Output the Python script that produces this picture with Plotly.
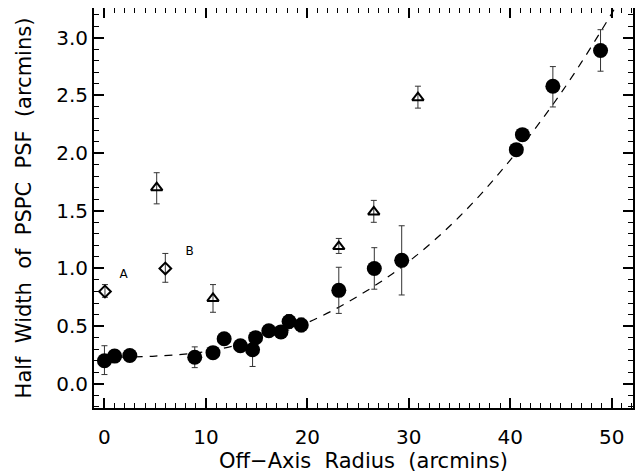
import plotly.graph_objects as go

# Filled circles (main PSF measurements)
circ_x = [0.0, 1.0, 2.5, 8.9, 10.7, 11.8, 13.4, 14.6, 14.9, 16.2, 17.4, 18.2, 19.4, 23.1, 26.6, 29.3, 40.6, 41.2, 44.2, 48.9]
circ_y = [0.20, 0.24, 0.245, 0.23, 0.27, 0.39, 0.33, 0.295, 0.40, 0.46, 0.45, 0.54, 0.51, 0.81, 1.00, 1.07, 2.03, 2.16, 2.58, 2.89]
circ_err_up = [0.13, 0.0, 0.05, 0.09, 0.0, 0.0, 0.0, 0.145, 0.0, 0.0, 0.0, 0.06, 0.06, 0.20, 0.18, 0.30, 0.0, 0.04, 0.17, 0.18]
circ_err_dn = [0.12, 0.0, 0.05, 0.09, 0.0, 0.0, 0.0, 0.145, 0.0, 0.0, 0.0, 0.06, 0.06, 0.20, 0.18, 0.30, 0.0, 0.04, 0.18, 0.18]

# Open triangles
tri_x = [5.15, 10.7, 23.1, 26.55, 30.9]
tri_y = [1.70, 0.74, 1.19, 1.49, 2.48]
tri_err_up = [0.13, 0.12, 0.07, 0.10, 0.10]
tri_err_dn = [0.14, 0.12, 0.06, 0.09, 0.09]

# Open diamonds (A, B)
dia_x = [0.05, 6.0]
dia_y = [0.80, 1.00]
dia_err_up = [0.06, 0.13]
dia_err_dn = [0.05, 0.12]

# Dashed fit curve
fit_x = [0, 5, 10, 15, 20, 25, 30, 35, 40, 45, 50, 52]
fit_y = [0.23, 0.24, 0.28, 0.38, 0.53, 0.76, 1.06, 1.45, 1.94, 2.52, 3.21, 3.52]

labels_text = ["A", "B"]
labels_x = [1.9, 8.4]
labels_y = [0.94, 1.14]

x_ticks = [0, 10, 20, 30, 40, 50]
y_ticks = [0.0, 0.5, 1.0, 1.5, 2.0, 2.5, 3.0]

x_title = "Off\u2212Axis\u00a0\u00a0Radius\u00a0\u00a0(arcmins)"
y_title = "Half\u00a0\u00a0Width\u00a0\u00a0of\u00a0\u00a0PSPC\u00a0\u00a0PSF\u00a0\u00a0(arcmins)"

FONT = "DejaVu Sans, Verdana, sans-serif"
ecol = "#333333"

fig = go.Figure()

fig.add_trace(go.Scatter(x=fit_x, y=fit_y, mode="lines", line=dict(color="black", width=1.2, dash="8px,7px", shape="spline"),
                         hoverinfo="skip", showlegend=False))

fig.add_trace(go.Scatter(
    x=circ_x, y=circ_y, mode="markers",
    marker=dict(symbol="circle", size=15, color="black"),
    error_y=dict(type="data", symmetric=False, array=circ_err_up, arrayminus=circ_err_dn,
                 color=ecol, thickness=1, width=3),
    showlegend=False, cliponaxis=False))

fig.add_trace(go.Scatter(
    x=tri_x, y=tri_y, mode="markers",
    marker=dict(symbol="triangle-up-open", size=10, color="black", line=dict(width=2, color="black")),
    error_y=dict(type="data", symmetric=False, array=tri_err_up, arrayminus=tri_err_dn,
                 color=ecol, thickness=1, width=3),
    showlegend=False))

fig.add_trace(go.Scatter(
    x=dia_x, y=dia_y, mode="markers",
    marker=dict(symbol="diamond-open", size=9, color="black", line=dict(width=2, color="black")),
    error_y=dict(type="data", symmetric=False, array=dia_err_up, arrayminus=dia_err_dn,
                 color=ecol, thickness=1, width=3),
    showlegend=False))

fig.add_trace(go.Scatter(
    x=labels_x, y=labels_y, mode="text", text=labels_text,
    textfont=dict(family=FONT, size=12, color="black"),
    showlegend=False, hoverinfo="skip"))

axis_common = dict(
    showgrid=False, zeroline=False, automargin=False,
    showline=True, linecolor="black", linewidth=2, mirror="allticks",
    ticks="inside", ticklen=10, tickwidth=1.5, tickcolor="black",
    tickfont=dict(family=FONT, size=20, color="black"),
)

fig.update_xaxes(
    range=[-1.03, 52.1], tickvals=x_ticks, ticktext=[str(v) for v in x_ticks],
    ticklabelstandoff=10,
    minor=dict(dtick=1, ticks="inside", ticklen=5, tickwidth=1.2, tickcolor="black", showgrid=False),
    title=dict(text=x_title, font=dict(family=FONT, size=21, color="black"), standoff=3),
    **axis_common)
fig.update_yaxes(
    range=[-0.21, 3.258], tickvals=y_ticks, ticktext=[f"{v:.1f}" for v in y_ticks],
    minor=dict(dtick=0.1, ticks="inside", ticklen=5, tickwidth=1.2, tickcolor="black", showgrid=False),
    title=dict(text=y_title, font=dict(family=FONT, size=21, color="black"), standoff=19),
    **axis_common)

# page body has an 8px margin, so the figure is drawn offset by (8, 8)
fig.update_layout(
    width=635, height=468,
    margin=dict(l=86, r=10, t=0, b=68),
    paper_bgcolor="white", plot_bgcolor="white",
)

fig.write_html("out.html")
